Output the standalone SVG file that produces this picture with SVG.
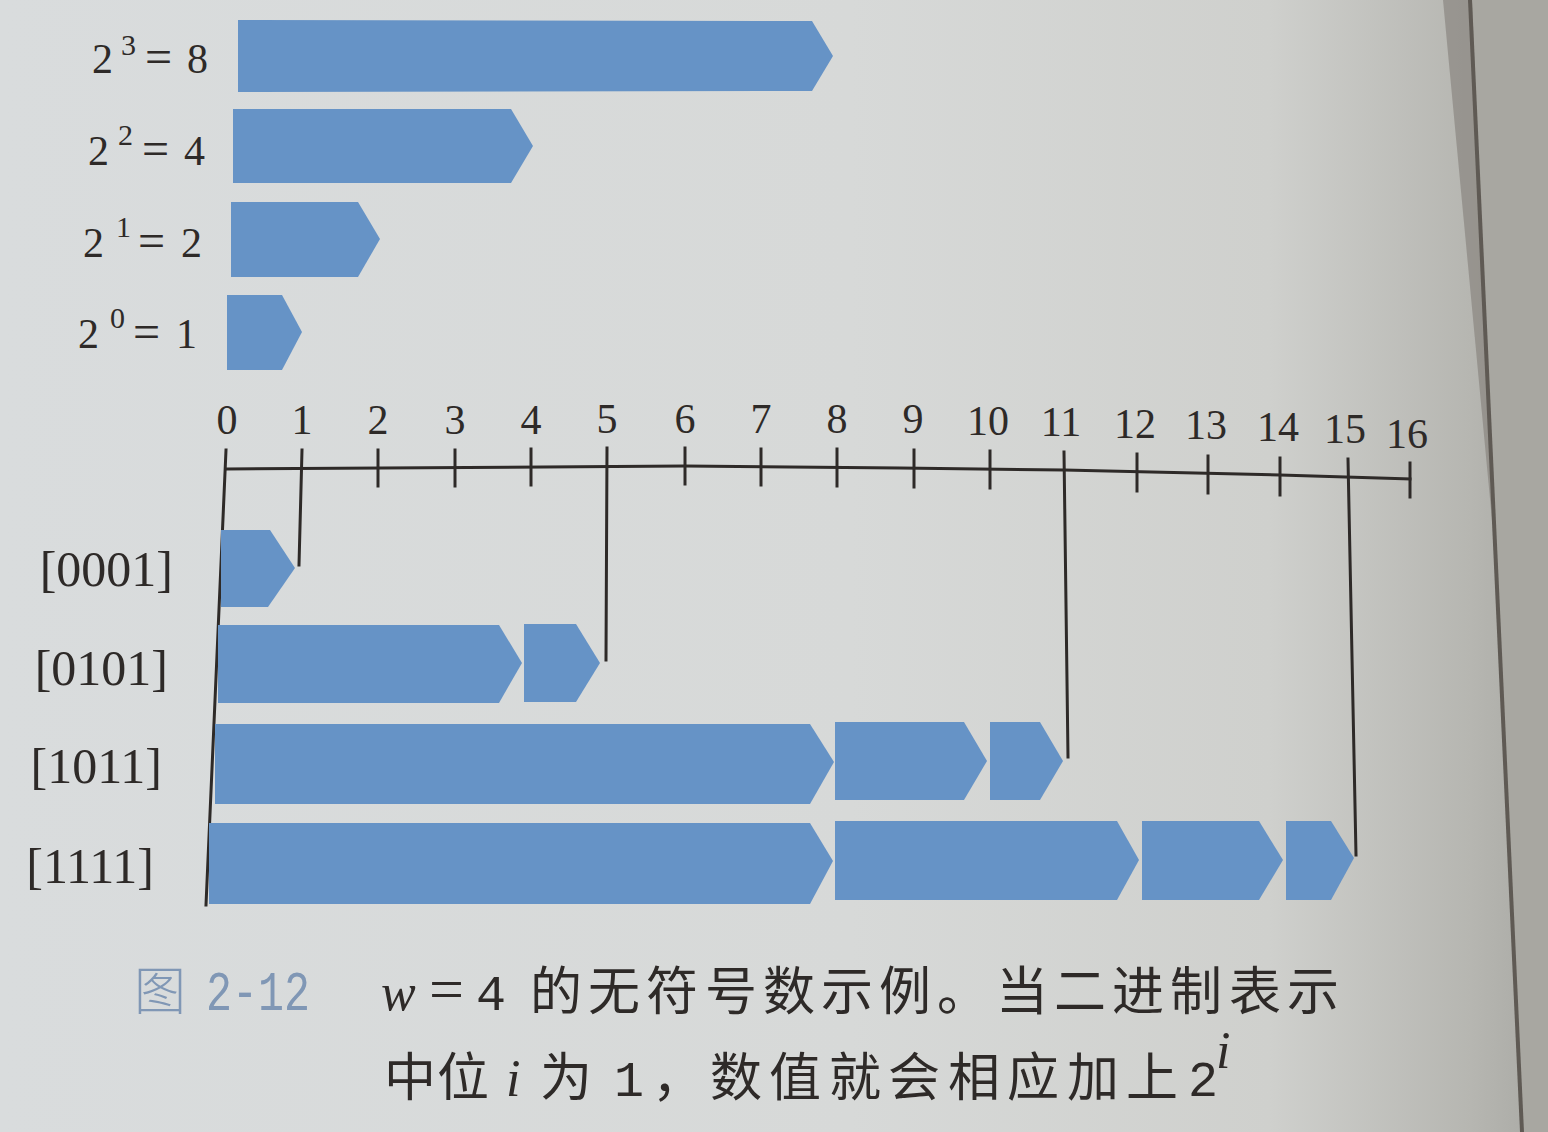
<svg xmlns="http://www.w3.org/2000/svg" width="1548" height="1132" viewBox="0 0 1548 1132">
  <defs>
    <linearGradient id="paper" x1="0" y1="0" x2="1" y2="0">
      <stop offset="0" stop-color="#d9dcdd"/>
      <stop offset="0.55" stop-color="#d7d9d8"/>
      <stop offset="0.82" stop-color="#cfd0cd"/>
      <stop offset="0.95" stop-color="#b6b6b1"/>
      <stop offset="1" stop-color="#a9a9a4"/>
    </linearGradient>
    <style>
      .bar { fill: #6693c6; }
      .num { font-family: "Liberation Serif", "Times New Roman", serif; fill: #2e2a28; }
      .tick { font-family: "Liberation Serif", serif; font-size: 42px; fill: #2e2a28; text-anchor: middle; }
      .lbl { font-family: "Liberation Serif", serif; font-size: 50px; fill: #2e2a28; text-anchor: end; }
      .cjk { font-family: "Noto Sans CJK SC", "Liberation Sans", sans-serif; font-size: 52px; fill: #2e2a28; }
      .mono { font-family: "Liberation Mono", monospace; font-size: 50px; fill: #2e2a28; }
      .it { font-family: "Liberation Serif", serif; font-style: italic; font-size: 52px; fill: #2e2a28; }
      .line { stroke: #2e2a28; stroke-width: 3; fill: none; stroke-linecap: square; }
    </style>
  </defs>

  <!-- page background -->
  <rect x="0" y="0" width="1548" height="1132" fill="url(#paper)"/>
  <polygon points="1470,0 1548,0 1548,1132 1522,1132" fill="#a8a7a1"/>
  <polygon points="1443,0 1472,0 1492,520" fill="#7d7872" opacity="0.55"/>
  <line x1="1470" y1="0" x2="1522" y2="1132" stroke="#5f5a54" stroke-width="4"/>

  <!-- top bars: powers of two -->
  <g id="pow3">
    <polygon class="bar" points="238,20 812,21 833,56 812,91 238,92"/>
    <text class="num" x="92" y="73" font-size="42">2</text>
    <text class="num" x="121" y="55" font-size="30">3</text>
    <text class="num" x="145" y="73" font-size="48">=</text>
    <text class="num" x="187" y="73" font-size="42">8</text>
  </g>
  <g id="pow2">
    <polygon class="bar" points="233,109 511,109 533,146 511,183 233,183"/>
    <text class="num" x="88" y="165" font-size="42">2</text>
    <text class="num" x="118" y="145" font-size="30">2</text>
    <text class="num" x="142" y="165" font-size="48">=</text>
    <text class="num" x="184" y="165" font-size="42">4</text>
  </g>
  <g id="pow1">
    <polygon class="bar" points="231,202 358,202 380,239 358,277 231,277"/>
    <text class="num" x="83" y="257" font-size="42">2</text>
    <text class="num" x="116" y="237" font-size="30">1</text>
    <text class="num" x="138" y="257" font-size="48">=</text>
    <text class="num" x="181" y="257" font-size="42">2</text>
  </g>
  <g id="pow0">
    <polygon class="bar" points="227,295 282,295 302,332 282,370 227,370"/>
    <text class="num" x="78" y="348" font-size="42">2</text>
    <text class="num" x="110" y="328" font-size="30">0</text>
    <text class="num" x="133" y="348" font-size="48">=</text>
    <text class="num" x="176" y="348" font-size="42">1</text>
  </g>

  <!-- number line -->
  <g id="axis">
    <polyline class="line" points="227,469 685,466 900,468 1064,470 1280,475 1410,479"/>
    <g class="line">
      <line x1="378" y1="450" x2="378" y2="486"/>
      <line x1="455" y1="450" x2="455" y2="486"/>
      <line x1="531" y1="449" x2="531" y2="485"/>
      <line x1="685" y1="448" x2="685" y2="484"/>
      <line x1="761" y1="449" x2="761" y2="485"/>
      <line x1="837" y1="449" x2="837" y2="486"/>
      <line x1="914" y1="450" x2="914" y2="487"/>
      <line x1="990" y1="451" x2="990" y2="488"/>
      <line x1="1137" y1="454" x2="1137" y2="491"/>
      <line x1="1208" y1="456" x2="1208" y2="493"/>
      <line x1="1280" y1="458" x2="1280" y2="495"/>
      <line x1="1410" y1="463" x2="1410" y2="497"/>
    </g>
    <text class="tick" x="227" y="434">0</text>
    <text class="tick" x="302" y="434">1</text>
    <text class="tick" x="378" y="434">2</text>
    <text class="tick" x="455" y="434">3</text>
    <text class="tick" x="531" y="434">4</text>
    <text class="tick" x="607" y="433">5</text>
    <text class="tick" x="685" y="433">6</text>
    <text class="tick" x="761" y="433">7</text>
    <text class="tick" x="837" y="433">8</text>
    <text class="tick" x="913" y="433">9</text>
    <text class="tick" x="988" y="435">10</text>
    <text class="tick" x="1061" y="436">11</text>
    <text class="tick" x="1135" y="438">12</text>
    <text class="tick" x="1206" y="439">13</text>
    <text class="tick" x="1278" y="441">14</text>
    <text class="tick" x="1345" y="443">15</text>
    <text class="tick" x="1407" y="448">16</text>
  </g>

  <!-- connectors -->
  <g id="connectors" class="line">
    <line x1="226" y1="450" x2="206" y2="905"/>
    <line x1="302" y1="450" x2="299" y2="565"/>
    <line x1="607" y1="448" x2="606" y2="660"/>
    <line x1="1064" y1="452" x2="1068" y2="757"/>
    <line x1="1348" y1="459" x2="1356" y2="855"/>
  </g>

  <!-- value bars -->
  <g id="v0001">
    <text class="lbl" x="173" y="586">[0001]</text>
    <polygon class="bar" points="221,530 270,530 295,568 268,607 221,607"/>
  </g>
  <g id="v0101">
    <text class="lbl" x="168" y="685">[0101]</text>
    <polygon class="bar" points="218,625 499,625 522,663 499,703 218,703"/>
    <polygon class="bar" points="524,624 576,624 600,663 576,702 524,702"/>
  </g>
  <g id="v1011">
    <text class="lbl" x="162" y="783">[1011]</text>
    <polygon class="bar" points="215,724 810,724 834,762 810,804 215,804"/>
    <polygon class="bar" points="835,722 964,722 987,761 964,800 835,800"/>
    <polygon class="bar" points="990,722 1040,722 1063,761 1040,800 990,800"/>
  </g>
  <g id="v1111">
    <text class="lbl" x="154" y="883">[1111]</text>
    <polygon class="bar" points="209,823 810,823 833,861 810,904 209,904"/>
    <polygon class="bar" points="835,821 1117,821 1139,860 1117,900 835,900"/>
    <polygon class="bar" points="1142,821 1259,821 1283,860 1259,900 1142,900"/>
    <polygon class="bar" points="1286,821 1331,821 1354,858 1331,900 1286,900"/>
  </g>

  <!-- caption -->
  <g id="caption">
    <text x="134" y="1010" font-family="Noto Sans CJK SC, sans-serif" font-size="52" fill="#8097b5" font-weight="300">图</text>
    <text x="206" y="1010" font-family="Liberation Mono, monospace" font-size="56" fill="#8097b5" textLength="104" lengthAdjust="spacingAndGlyphs">2-12</text>

    <text class="it" x="381" y="1010">w</text>
    <text class="num" x="429" y="1010" font-size="62">=</text>
    <text class="mono" x="476" y="1010">4</text>
    <text class="cjk" y="1010" x="530 588 646 705 763 821 879 937 996 1054 1112 1170 1229 1287">的无符号数示例。当二进制表示</text>

    <text class="cjk" y="1096" x="384 437">中位</text>
    <text class="it" x="506" y="1096">i</text>
    <text class="cjk" x="540" y="1096">为</text>
    <text class="mono" x="614" y="1096">1</text>
    <text class="cjk" y="1096" x="652 710 769 829 888 948 1007 1067 1126">，数值就会相应加上</text>
    <text class="mono" x="1188" y="1096" font-size="46">2</text>
    <text class="it" x="1216" y="1068" font-size="24">i</text>
  </g>
</svg>
